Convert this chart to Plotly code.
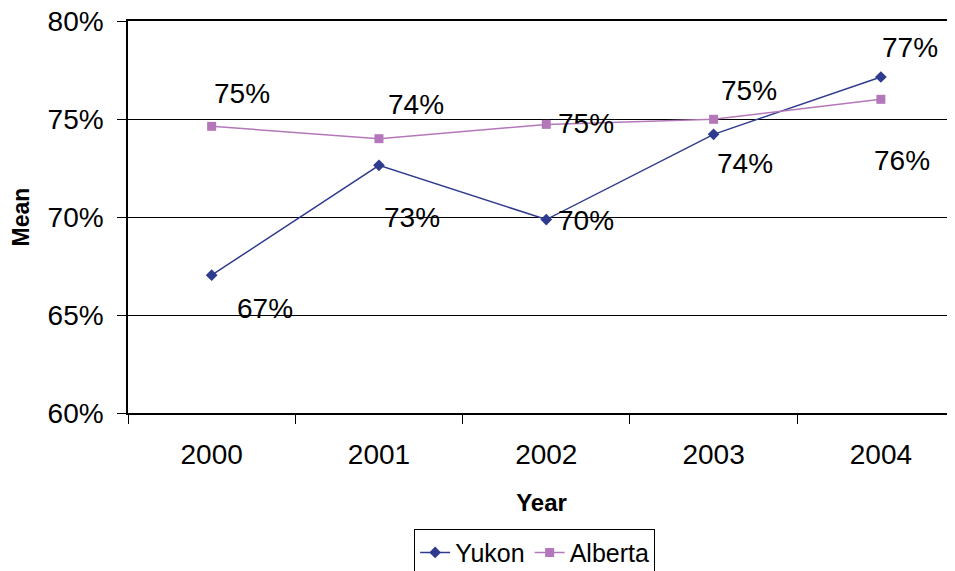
import plotly.graph_objects as go

years = ['2000', '2001', '2002', '2003', '2004']
yukon = [0.6704, 0.7265, 0.6988, 0.7423, 0.7716]
alberta = [0.7464, 0.7401, 0.7474, 0.7500, 0.7602]
yukon_labels = ['67%', '73%', '70%', '74%', '77%']
alberta_labels = ['75%', '74%', '75%', '75%', '76%']
pct_ticks = [0.60, 0.65, 0.70, 0.75, 0.80]

# manual label offsets (px) like the hand-placed Excel labels
yukon_shift = [(53, -33), (33, -52), (40, -1), (31, -29), (29, 30)]
alberta_shift = [(30, 33), (37, 34), (40, 1), (35, 29), (21, -61)]

navy = '#2E3B8E'
purple = '#B478BA'
font = 'Liberation Sans, Arial, sans-serif'

fig = go.Figure()
fig.add_trace(go.Scatter(x=years, y=yukon, name='Yukon', mode='lines+markers',
                         line=dict(color=navy, width=1.5),
                         marker=dict(symbol='diamond', size=9, color=navy)))
fig.add_trace(go.Scatter(x=years, y=alberta, name='Alberta', mode='lines+markers',
                         line=dict(color=purple, width=1.5),
                         marker=dict(symbol='square', size=9, color=purple)))

# category axis: annotations use the category index
for i, (v, t, (dx, dy)) in enumerate(zip(yukon, yukon_labels, yukon_shift)):
    fig.add_annotation(x=i, y=v, text=t, showarrow=False, xshift=dx, yshift=dy,
                       font=dict(size=28, color='black', family=font))
for i, (v, t, (dx, dy)) in enumerate(zip(alberta, alberta_labels, alberta_shift)):
    fig.add_annotation(x=i, y=v, text=t, showarrow=False, xshift=dx, yshift=dy,
                       font=dict(size=28, color='black', family=font))

fig.update_layout(
    width=955, height=571,
    margin=dict(l=120, r=8, t=13, b=166, autoexpand=False),
    paper_bgcolor='white', plot_bgcolor='white',
    font=dict(family=font, color='black'),
    legend=dict(orientation='h', x=0.346, xanchor='left', y=-0.295, yanchor='top',
                bordercolor='black', borderwidth=1, bgcolor='white',
                font=dict(size=25), itemwidth=30, tracegroupgap=0),
)
fig.update_xaxes(type='category', range=[-0.5, 4.443], tickson='boundaries',
                 ticks='outside', ticklen=9, tickcolor='black',
                 showline=True, linecolor='black', linewidth=1.5, mirror=True,
                 showgrid=False, tickfont=dict(size=28), ticklabelstandoff=16,
                 title=dict(text='<b>Year</b>', font=dict(size=24), standoff=25))
fig.update_yaxes(range=[0.60, 0.8002], tickvals=pct_ticks, tickformat='.0%',
                 ticks='outside', ticklen=9, tickcolor='black',
                 ticklabeloverflow='allow',
                 showline=True, linecolor='black', linewidth=1.5,
                 showgrid=True, gridcolor='black', gridwidth=1, zeroline=False,
                 tickfont=dict(size=28), ticklabelstandoff=8,
                 title=dict(text='<b>Mean</b>', font=dict(size=23), standoff=22))

fig.write_html("out.html")
